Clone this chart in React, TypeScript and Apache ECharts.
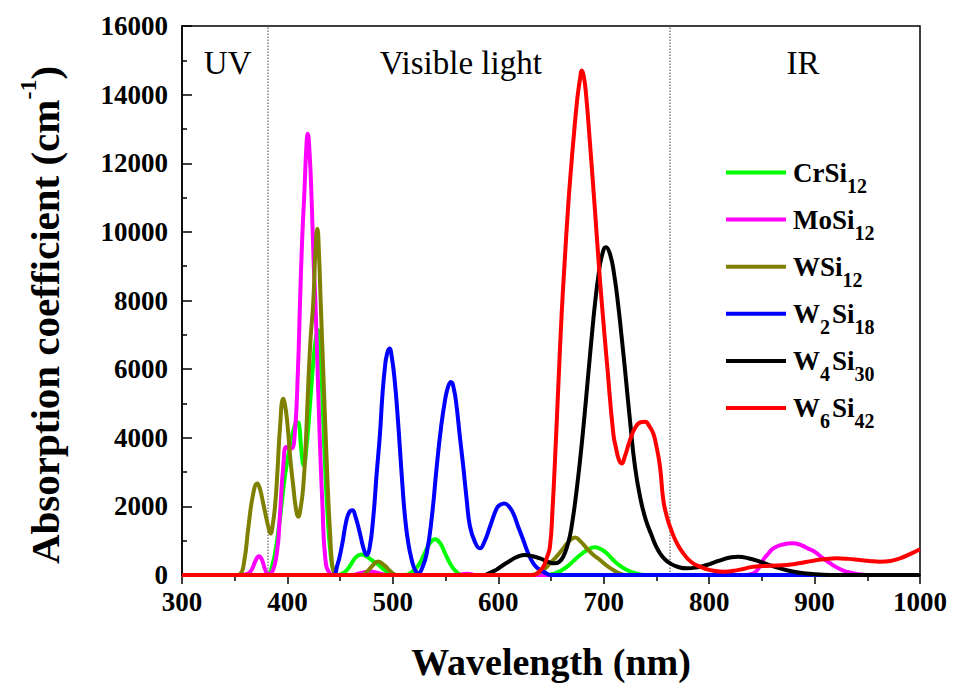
import React, { useEffect, useRef } from 'react';
import * as echarts from 'echarts';

const FONT = 'Liberation Serif';

const seriesNames = ['CrSi12', 'MoSi12', 'WSi12', 'W2Si18', 'W4Si30', 'W6Si42'];
const seriesColors = ['#00ff00', '#ff00ff', '#808000', '#0000ff', '#000000', '#ff0000'];

const xTicks = { min: 300, max: 1000, interval: 100 };
const yTicks = { min: 0, max: 16000, interval: 2000 };

const regionBounds = [300, 381, 763, 1000];
const regionNames = ['UV', 'Visible light', 'IR'];
const regionLabelOffsets = [3, -8, 8];

const crSi12 = [
  [300, 0], [380, 0], [385, 200], [391, 1200], [395, 2200], [398, 2960], [402, 3700], [406, 4250], [409, 4450],
  [411, 4400], [413, 3700], [415.5, 3200], [418, 3700], [421, 4800], [424, 6000], [427, 6900], [429.3, 7130],
  [432, 6000], [435, 3700], [438, 1800], [441, 600], [444, 100], [448, 0], [455, 100], [460, 300], [465, 520],
  [470, 600], [475, 540], [480, 430], [485, 330], [490, 200], [495, 80], [500, 20], [505, 0], [510, 0], [518, 80],
  [525, 320], [530, 620], [535, 920], [540, 1040], [545, 920], [550, 600], [555, 300], [560, 100], [566, 0],
  [645, 0], [655, 60], [665, 240], [672, 430], [678, 590], [685, 740], [691.7, 806], [698, 740], [704, 600],
  [709, 437], [715, 280], [722, 146], [730, 50], [740, 0], [1000, 0],
];

const moSi12 = [
  [300, 0], [355, 0], [362, 30], [366, 150], [370, 430], [373, 550], [376, 430], [379, 150], [382, 30], [385, 60],
  [390, 650], [393, 1800], [396, 3150], [399, 3730], [402, 3700], [404, 3690], [407, 4120], [410, 6000], [412, 8000],
  [414, 9800], [416, 11100], [418, 12500], [419.2, 12860], [421, 12300], [423, 10900], [425, 9000], [426.5, 8000],
  [429.5, 5100], [431, 3700], [433, 2200], [436, 450], [440, 50], [444, 0], [460, 0], [470, 60], [478, 100],
  [486, 60], [495, 0], [560, 0], [570, 40], [580, 0], [835, 0], [842, 50], [847, 200], [851, 430], [856, 620],
  [861, 780], [870, 890], [879, 925], [888, 860], [894, 770], [899, 700], [905, 560], [910, 440], [915, 340],
  [920, 240], [925, 160], [930, 100], [940, 30], [950, 0], [1000, 0],
];

const wSi12 = [
  [300, 0], [350, 0], [355, 30], [359, 400], [363, 1400], [367.6, 2380], [371.4, 2670], [374, 2500], [377, 2090],
  [381.9, 1400], [384, 1210], [386, 1450], [388.2, 1990], [390.5, 3000], [393, 4320], [396, 5140], [398.5, 4800],
  [400.8, 4120], [403, 3300], [405.6, 2570], [408, 1950], [410.3, 1700], [412.5, 1950], [415, 2570], [417.5, 3900],
  [419.8, 5580], [422, 6900], [424.6, 8000], [426.5, 9400], [428.4, 10090], [430, 9300], [431.5, 8000],
  [433.3, 6500], [435, 5100], [437, 3500], [438.8, 2180], [440.5, 1200], [442, 440], [444, 100], [447, 0],
  [470, 0], [475, 80], [480, 250], [486, 390], [492, 280], [498, 100], [504, 0], [630, 0], [638, 60], [644, 180],
  [649, 340], [655, 530], [661.7, 780], [667, 980], [672.8, 1090], [678, 980], [683.8, 780], [690, 590],
  [696.5, 437], [703, 270], [709, 146], [715, 50], [722, 0], [1000, 0],
];

const w2Si18 = [
  [300, 0], [443, 0], [447, 250], [451.5, 825], [456, 1600], [459, 1850], [461.6, 1890], [464.5, 1700],
  [468.8, 1213], [472, 800], [475.2, 582], [478, 800], [481.5, 1700], [484.5, 2900], [487.8, 4125], [490, 5200],
  [492.5, 6065], [494.5, 6450], [496.7, 6600], [499, 6350], [502, 5580], [504.5, 4650], [506.8, 3640], [509, 2650],
  [511.5, 1700], [514.5, 950], [517.9, 437], [521, 150], [524.2, 50], [528, 220], [532.1, 631], [537, 1700],
  [541.6, 3153], [545.5, 4250], [549.5, 5095], [552.5, 5500], [555.1, 5628], [558, 5400], [560.5, 4900],
  [563.5, 4050], [566.8, 3153], [570, 2200], [573.2, 1406], [578, 950], [582.6, 776], [587, 980], [592.1, 1406],
  [598.5, 1941], [602, 2050], [605.7, 2086], [610, 2000], [614.2, 1795], [619, 1400], [623.7, 1019], [628.5, 620],
  [633.2, 340], [638, 180], [642.7, 97], [650, 0], [1000, 0],
];

const w4Si30 = [
  [300, 0], [585, 0], [592, 60], [598, 150], [604.8, 290], [612, 430], [618, 530], [625.3, 582], [632, 550],
  [639.6, 485], [646, 400], [653.8, 340], [658, 390], [661.7, 540], [665, 800], [668, 1150], [670.5, 1600],
  [672.8, 2100], [675, 2650], [677.5, 3330], [681, 4390], [685.4, 5870], [689.5, 7230], [691.7, 7900],
  [694.9, 8710], [698, 9270], [702.2, 9555], [706, 9350], [709.8, 8780], [713.8, 7850], [717, 6940],
  [720.2, 5980], [725, 4480], [729.7, 3150], [735, 2200], [740, 1600], [745.5, 1150], [749, 880], [753.4, 631],
  [758, 460], [762.9, 340], [770, 240], [778.7, 194], [788, 220], [797.6, 291], [805, 370], [813.4, 456],
  [820, 510], [827.7, 533], [838, 480], [848.2, 388], [857, 290], [867.2, 194], [878, 110], [889.3, 50],
  [905, 15], [921, 0], [1000, 0],
];

const w6Si42 = [
  [300, 0], [634, 0], [638, 80], [642.7, 242], [646, 500], [649, 825], [651.5, 1950], [653.8, 3348], [657, 5550],
  [660.1, 7600], [663, 9150], [666.4, 10800], [669, 11850], [671.2, 12650], [675, 13900], [677.5, 14450],
  [679.2, 14700], [681, 14550], [683.2, 14023], [687, 12568], [691.7, 10626], [695, 9200], [698, 8006],
  [703.4, 6065], [709.1, 4125], [712, 3650], [714.5, 3350], [717, 3252], [720, 3450], [724.9, 3930], [730, 4300],
  [735, 4450], [739.2, 4463], [743, 4350], [747, 4125], [750, 3750], [753.4, 3153], [756.5, 2183], [759.5, 1750],
  [762.9, 1406], [769, 950], [775.5, 631], [783, 380], [791.3, 242], [800, 150], [813.4, 97], [828, 150],
  [842, 240], [858, 270], [873.5, 291], [885, 340], [898.8, 417], [910, 460], [921, 485], [932, 470], [943, 437],
  [952, 410], [962, 388], [972, 410], [981, 485], [990, 600], [1000, 748],
];

const seriesData = [crSi12, moSi12, wSi12, w2Si18, w4Si30, w6Si42];

const toRich = (name: string) => name.replace(/(\D+)(\d+)/g, '{b|$1}{s|$2}');

export default function App() {
  const ref = useRef<HTMLDivElement>(null);
  useEffect(() => {
    if (!ref.current) return;
    const chart = echarts.init(ref.current, undefined, { renderer: 'svg' });
    const series: any[] = seriesNames.map((name, i) => ({
      name,
      type: 'line',
      data: seriesData[i],
      showSymbol: false,
      symbol: 'none',
      smooth: 0.5,
      lineStyle: { color: seriesColors[i], width: 4 },
      itemStyle: { color: seriesColors[i] },
      z: 3 + i,
    }));
    series[0].markLine = {
      silent: true,
      symbol: 'none',
      label: { show: false },
      lineStyle: { type: 'dotted', color: '#808080', width: 1.5 },
      data: regionBounds.slice(1, 3).map((v) => ({ xAxis: v })),
    };
    series[0].markArea = {
      silent: true,
      itemStyle: { color: 'rgba(0,0,0,0)' },
      label: {
        show: true,
        position: 'insideTop',
        distance: 20,
        color: '#000',
        fontSize: 33,
        fontFamily: FONT,
        fontWeight: 'normal',
      },
      data: regionNames.map((n, i) => [
        { name: n, xAxis: regionBounds[i], label: { offset: [regionLabelOffsets[i], 0] } },
        { xAxis: regionBounds[i + 1] },
      ]),
    };
    const option: any = {
      animation: false,
      backgroundColor: '#ffffff',
      grid: {
        left: 182,
        right: 35,
        top: 26,
        bottom: 113,
        show: true,
        borderColor: '#000',
        borderWidth: 1.5,
      },
      legend: {
        orient: 'vertical',
        left: 721,
        top: 154,
        itemWidth: 60,
        itemHeight: 4,
        itemGap: 10.6,
        icon: 'rect',
        data: seriesNames.map((n, i) => ({ name: n, icon: 'rect', itemStyle: { color: seriesColors[i] } })),
        formatter: (name: string) => toRich(name),
        textStyle: {
          rich: {
            b: { fontSize: 27, fontWeight: 'bold', fontFamily: FONT, color: '#000', lineHeight: 46, padding: [0, 0, 0, 2] },
            s: { fontSize: 20, fontWeight: 'bold', fontFamily: FONT, color: '#000', verticalAlign: 'bottom' },
          },
        },
      },
      xAxis: {
        type: 'value',
        min: xTicks.min,
        max: xTicks.max,
        interval: xTicks.interval,
        name: 'Wavelength (nm)',
        nameLocation: 'middle',
        nameGap: 68,
        nameTextStyle: { fontSize: 38, fontWeight: 'bold', fontFamily: FONT, color: '#000' },
        axisLine: { lineStyle: { color: '#000', width: 1.5 } },
        axisTick: { length: 9, lineStyle: { color: '#000', width: 1.5 } },
        minorTick: { show: true, splitNumber: 2, length: 6, lineStyle: { color: '#000', width: 1.5 } },
        axisLabel: {
          fontSize: 27, fontWeight: 'bold', fontFamily: FONT, color: '#000', margin: 13,
          formatter: (v: number) => String(v),
        },
        splitLine: { show: false },
      },
      yAxis: {
        type: 'value',
        min: yTicks.min,
        max: yTicks.max,
        interval: yTicks.interval,
        name: '{b|Absorption coefficient (cm}{sup|-1}{b|)}',
        nameLocation: 'middle',
        nameRotate: 90,
        nameGap: 108,
        nameTextStyle: {
          padding: [0, 29, 0, 0],
          rich: {
            b: { fontSize: 41, fontWeight: 'bold', fontFamily: FONT, color: '#000', lineHeight: 58 },
            sup: { fontSize: 24, fontWeight: 'bold', fontFamily: FONT, color: '#000', verticalAlign: 'top' },
          },
        },
        axisLine: { lineStyle: { color: '#000', width: 1.5 } },
        axisTick: { inside: true, length: 10, lineStyle: { color: '#000', width: 1.5 } },
        minorTick: { show: true, splitNumber: 2, length: 5, lineStyle: { color: '#000', width: 1.5 } },
        axisLabel: {
          fontSize: 27, fontWeight: 'bold', fontFamily: FONT, color: '#000', margin: 14,
          formatter: (v: number) => String(v),
        },
        splitLine: { show: false },
      },
      series,
    };
    chart.setOption(option);
    return () => chart.dispose();
  }, []);
  return <div ref={ref} style={{ position: 'fixed', left: 0, top: 0, width: 955, height: 688 }} />;
}
